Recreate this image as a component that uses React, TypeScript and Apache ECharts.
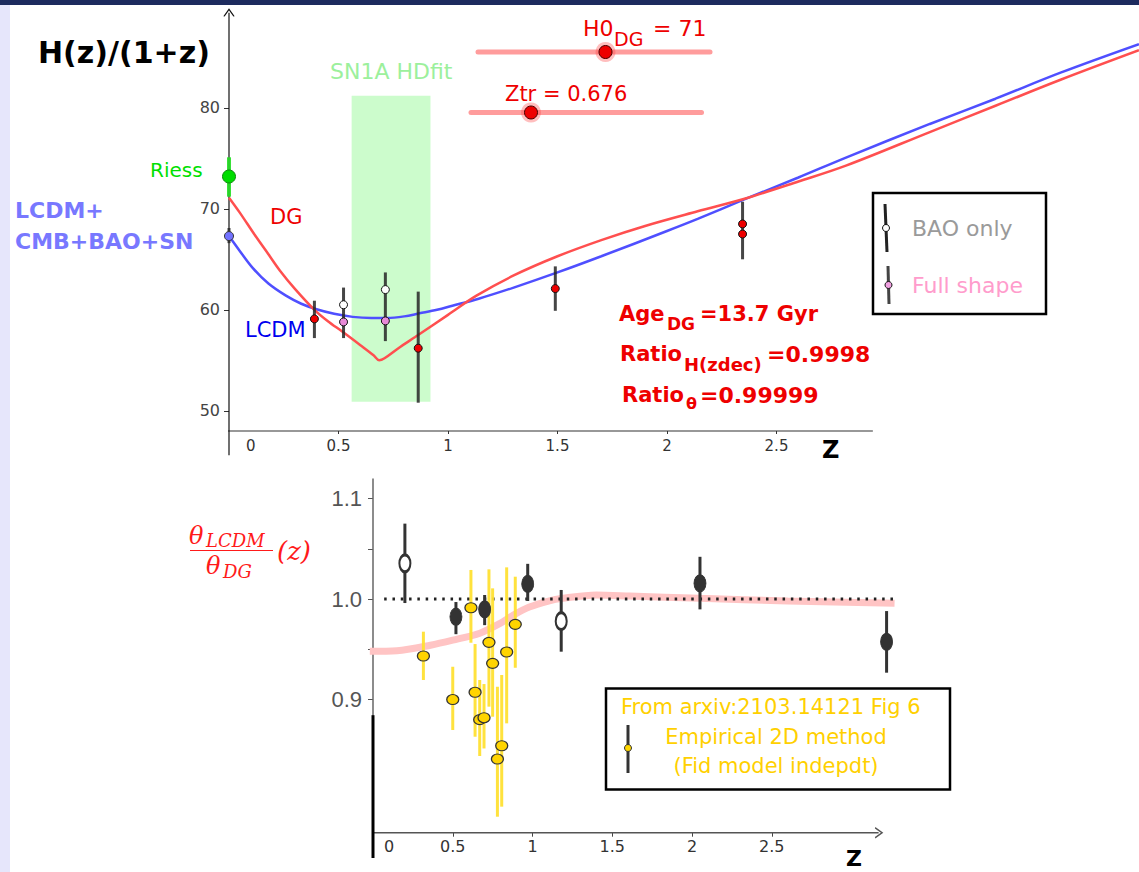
import React, { useEffect, useRef } from 'react';
import * as echarts from 'echarts';

// ---------- TOP PANEL: H(z)/(1+z) ----------
const lcdmCurve = [
  [0, 67.3], [0.05, 65.8], [0.11, 64.1], [0.18, 62.6], [0.26, 61.4], [0.33, 60.6], [0.4, 60.05],
  [0.48, 59.6], [0.565, 59.3], [0.65, 59.2], [0.72, 59.2], [0.8, 59.35], [0.87, 59.65], [0.95, 60.0],
  [1.02, 60.4], [1.14, 61.1], [1.3, 62.2], [1.5, 63.7], [1.7, 65.3], [2.0, 67.8], [2.14, 69.0],
  [2.35, 70.9], [2.6, 73.1], [2.82, 75.1], [3.2, 78.4], [3.5, 80.9], [3.8, 83.5], [4.155, 86.3],
];
const dgCurve = [
  [0, 71.1], [0.05, 69.6], [0.118, 67.4], [0.18, 65.5], [0.232, 63.9], [0.3, 62.1], [0.39, 60.0],
  [0.45, 58.9], [0.52, 57.8], [0.6, 56.5], [0.66, 55.5], [0.686, 55.0], [0.71, 55.2], [0.78, 56.3],
  [0.85, 57.3], [1.0, 59.5], [1.13, 61.4], [1.3, 63.4], [1.5, 65.3], [1.7, 66.9], [1.9, 68.3],
  [2.14, 69.75], [2.35, 70.97], [2.6, 72.7], [2.82, 74.3], [3.2, 77.6], [3.5, 80.2], [3.8, 82.8],
  [4.155, 85.7],
];
const riessPoint = [[0, 73.2]];
const riessBar = [[0, 71.2, 75.1]];
const lcdmPoint = [[0, 67.3]];
const lcdmBar = [[0, 66.6, 68.1]];
const fullShapeRed = [[0.39, 59.1], [0.864, 56.2], [1.49, 62.1], [2.345, 68.5], [2.345, 67.5]];
const baoOnly = [[0.523, 60.5], [0.714, 62.0]];
const fullShapePink = [[0.523, 58.8], [0.714, 58.9]];
const topBars = [
  [0.39, 57.2, 60.9], [0.523, 57.2, 62.2], [0.714, 56.9, 63.7],
  [0.864, 50.8, 61.8], [1.49, 59.9, 64.3], [2.345, 65.0, 70.7],
];
const snBand = [0.56, 0.92, 50.9, 81.2]; // z0, z1, Hlo, Hhi
const topXTicks = [0.5, 1, 1.5, 2, 2.5];
const topYTicks = [50, 60, 70, 80];
const topXAxisLine = [[-0.073, 48], [2.94, 48]];
const topYAxisLine = [[0, 45.6], [0, 89.4]];

// ---------- BOTTOM PANEL: theta ratio ----------
const pinkCurve = [
  [-0.02, 0.948], [0.15, 0.9486], [0.36, 0.954], [0.5, 0.959], [0.67, 0.966], [0.8, 0.976],
  [0.88, 0.984], [0.98, 0.992], [1.1, 0.998], [1.19, 1.0007], [1.4, 1.004], [1.61, 1.003],
  [2.05, 1.0007], [2.6, 0.998], [3.27, 0.9957],
];
const ratioOne = [[0.07, 1], [3.27, 1]];
const empFilled = [[0.52, 0.9824], [0.70, 0.9897], [0.97, 1.015], [2.05, 1.0156], [3.22, 0.9575]];
const empOpen = [[0.2, 1.0355], [1.18, 0.978]];
const empBars = [
  [0.2, 0.996, 1.075], [0.52, 0.965, 0.997], [0.70, 0.974, 1.004], [0.97, 0.998, 1.035],
  [1.18, 0.9476, 1.009], [2.05, 0.9897, 1.042], [3.22, 0.9267, 0.988],
];
const yellowPts = [
  [0.316, 0.9433], [0.50, 0.900], [0.614, 0.9913], [0.64, 0.9072], [0.669, 0.880], [0.696, 0.8819],
  [0.727, 0.9569], [0.75, 0.936], [0.78, 0.8408], [0.807, 0.854], [0.838, 0.9473], [0.892, 0.9748],
];
const yellowBars = [
  [0.316, 0.9194, 0.9675], [0.50, 0.8697, 0.9326], [0.614, 0.9565, 1.0289], [0.64, 0.863, 0.9552],
  [0.669, 0.8438, 0.9194], [0.696, 0.8513, 0.9154], [0.727, 0.8929, 1.0295], [0.75, 0.8829, 1.0106],
  [0.78, 0.7834, 0.9127], [0.807, 0.7934, 0.9244], [0.838, 0.8763, 1.0315], [0.892, 0.9316, 1.0222],
];
const botXTicks = [0.5, 1, 1.5, 2, 2.5];
const botYLabels = [0.9, 1.0, 1.1];
const botYTicks = [0.9, 0.95, 1.0, 1.05, 1.1];
const botXAxisLine = [[-0.11, 0.7675], [3.17, 0.7675]];
const botYAxisGray = [[0, 0.7423], [0, 1.12]];
const botYAxisBlack = [[0, 0.7423], [0, 0.8844]];

const SANS = '"DejaVu Sans", sans-serif';
const SERIF = '"DejaVu Serif", serif';
const ELLIPSE = 'path://M5,0 A5,5 0 1 1 5,10 A5,5 0 1 1 5,0 Z';
const CHEVRON_UP = 'path://M0,10 L5,0 L10,10';
const CHEVRON_RIGHT = 'path://M0,0 L10,5 L0,10';

function barSeries(data: number[][], idx: number, color: string, width: number, opacity = 1, z = 4) {
  return {
    type: 'custom',
    xAxisIndex: idx,
    yAxisIndex: idx,
    data,
    silent: true,
    clip: false,
    z,
    encode: { x: 0, y: [1, 2] },
    renderItem: (_p: any, api: any) => {
      const a = api.coord([api.value(0), api.value(1)]);
      const b = api.coord([api.value(0), api.value(2)]);
      return {
        type: 'line',
        shape: { x1: a[0], y1: a[1], x2: b[0], y2: b[1] },
        style: { stroke: color, lineWidth: width, opacity, lineCap: 'butt' },
      };
    },
  };
}

function lineSeries(data: number[][], idx: number, color: string, width: number, z = 2, extra: any = {}) {
  return {
    type: 'line',
    xAxisIndex: idx,
    yAxisIndex: idx,
    data,
    showSymbol: false,
    symbol: 'none',
    silent: true,
    clip: false,
    z,
    lineStyle: { color, width },
    ...extra,
  };
}

function scatter(data: number[][], idx: number, symbol: string, size: any, fill: string, border: string, bw: number, z = 5) {
  return {
    type: 'scatter',
    xAxisIndex: idx,
    yAxisIndex: idx,
    data,
    symbol,
    symbolSize: size,
    silent: true,
    clip: false,
    z,
    itemStyle: { color: fill, borderColor: border, borderWidth: bw, opacity: 1 },
  };
}

function T(text: string, x: number, y: number, size: number, fill: string, o: any = {}) {
  return {
    type: 'text',
    x,
    y,
    silent: true,
    z: 10,
    style: {
      text,
      fill,
      font: `${o.italic ? 'italic ' : ''}${o.bold ? 'bold ' : ''}${size}px ${o.family || SANS}`,
      textAlign: o.align || 'left',
      textVerticalAlign: 'middle',
    },
  };
}

export default function App() {
  const ref = useRef<HTMLDivElement>(null);

  useEffect(() => {
    if (!ref.current) return;
    const chart = echarts.init(ref.current, undefined, { renderer: 'svg' });

    const topPx = 219; // px per unit z (top)
    const topW = 1139 - 229;
    const option: any = {
      animation: false,
      backgroundColor: '#ffffff',
      grid: [
        { left: 229, top: 6.8, width: topW, height: 424.2, outerBoundsMode: 'none', containLabel: false },
        { left: 373, top: 478.4, width: 542.3, height: 354.3, outerBoundsMode: 'none', containLabel: false },
      ],
      xAxis: [
        {
          type: 'value', gridIndex: 0, min: 0, max: topW / topPx,
          axisLine: { show: false }, splitLine: { show: false },
          axisTick: { show: true, customValues: topXTicks, length: 3, lineStyle: { color: '#333' } },
          axisLabel: { customValues: topXTicks, fontSize: 15, fontFamily: 'DejaVu Sans', color: '#333', margin: 7, formatter: (v: number) => String(v) },
        },
        {
          type: 'value', gridIndex: 1, min: 0, max: 3.4,
          axisLine: { show: false }, splitLine: { show: false },
          axisTick: { show: true, customValues: botXTicks, length: 4, lineStyle: { color: '#444' } },
          axisLabel: { customValues: botXTicks, fontSize: 16, fontFamily: 'DejaVu Sans', color: '#333', margin: 6, formatter: (v: number) => String(v) },
        },
      ],
      yAxis: [
        {
          type: 'value', gridIndex: 0, min: 48, max: 90,
          axisLine: { show: false }, splitLine: { show: false },
          axisTick: { show: true, customValues: topYTicks, length: 5, lineStyle: { color: '#333' } },
          axisLabel: { customValues: topYTicks, fontSize: 16, fontFamily: 'DejaVu Sans', color: '#444', margin: 9 },
        },
        {
          type: 'value', gridIndex: 1, min: 0.7675, max: 1.12,
          axisLine: { show: false }, splitLine: { show: false },
          axisTick: { show: true, customValues: botYTicks, length: 5, lineStyle: { color: '#555' } },
          axisLabel: {
            customValues: botYLabels, fontSize: 22, fontFamily: '"Liberation Sans Narrow", "Liberation Sans"',
            color: '#555', margin: 11, formatter: (v: number) => v.toFixed(1),
          },
        },
      ],
      series: [
        // top axes lines + SN band
        lineSeries(topXAxisLine, 0, '#333', 1.2, 1, {
          markArea: {
            silent: true,
            itemStyle: { color: '#ccfccc' },
            data: [[{ coord: [snBand[0], snBand[3]] }, { coord: [snBand[1], snBand[2]] }]],
          },
        }),
        lineSeries(topYAxisLine, 0, '#111', 1.2, 2),
        scatter([topYAxisLine[1]], 0, CHEVRON_UP, [10, 7], 'none', '#111', 1.2, 2),
        // curves
        lineSeries(lcdmCurve, 0, '#4f4fff', 2.5, 3, { smooth: 0.35 }),
        lineSeries(dgCurve, 0, '#ff4f4f', 2.5, 3, { smooth: 0.35 }),
        // error bars
        barSeries(topBars, 0, '#262626', 3, 0.85),
        barSeries(lcdmBar, 0, '#262626', 3, 0.85),
        barSeries(riessBar, 0, '#22dd22', 4, 0.9),
        // points
        scatter(fullShapeRed, 0, 'circle', 8, '#ee0000', '#111', 1),
        scatter(baoOnly, 0, 'circle', 8, '#ffffff', '#111', 1),
        scatter(fullShapePink, 0, 'circle', 8, '#e88ad8', '#111', 1),
        scatter(lcdmPoint, 0, 'circle', 9, '#7272ff', '#333', 1),
        scatter(riessPoint, 0, 'circle', 13, '#00dd00', '#118811', 1),

        // bottom axes
        lineSeries(botXAxisLine, 1, '#555', 1.5, 1),
        scatter([botXAxisLine[1]], 1, CHEVRON_RIGHT, [7, 10], 'none', '#555', 1.3, 2),
        lineSeries(botYAxisGray, 1, '#666', 1.5, 1),
        lineSeries(botYAxisBlack, 1, '#000', 3, 2),
        // pink DG ratio curve and dotted 1.0 line
        lineSeries(pinkCurve, 1, '#ffc4c4', 7, 2, { smooth: 0.3 }),
        lineSeries(ratioOne, 1, '#222', 3, 3, { lineStyle: { color: '#222', width: 3, type: [2.5, 5.8] } }),
        // empirical points
        barSeries(yellowBars, 1, '#ffe033', 3, 0.95, 4),
        barSeries(empBars, 1, '#333', 3, 1, 4),
        scatter(yellowPts, 1, ELLIPSE, [12, 10], '#ffd400', '#333', 1.2, 6),
        scatter(empFilled, 1, ELLIPSE, [12, 17], '#333333', '#333', 1, 5),
        scatter(empOpen, 1, ELLIPSE, [11, 17], '#ffffff', '#333', 2.5, 5),
      ],
      graphic: [
        // frame bits
        { type: 'rect', shape: { x: 0, y: 0, width: 1139, height: 5 }, style: { fill: '#1d2b5e' }, silent: true, z: 20 },
        { type: 'rect', shape: { x: 0, y: 5, width: 10, height: 867 }, style: { fill: '#e6e6fb' }, silent: true, z: 20 },

        // top texts
        T('H(z)/(1+z)', 38, 52, 30, '#000', { bold: true }),
        T('SN1A HDfit', 330, 71, 22, '#9cf09c'),
        T('Riess', 150, 170, 20, '#00e000'),
        T('LCDM+', 15, 210, 22, '#7878ff', { bold: true }),
        T('CMB+BAO+SN', 15, 241, 22, '#7878ff', { bold: true }),
        T('DG', 270, 217, 21, '#ee0000'),
        T('LCDM', 245, 330, 21, '#0000ee'),
        T('0', 246, 445.5, 15, '#333'),
        T('Z', 822, 450, 24, '#000', { bold: true }),

        // sliders
        { type: 'line', shape: { x1: 478, y1: 52, x2: 710, y2: 52 }, style: { stroke: '#ff9c9c', lineWidth: 5, lineCap: 'round' }, silent: true },
        { type: 'circle', shape: { cx: 605.5, cy: 52, r: 10 }, style: { fill: 'rgba(255,70,70,0.35)' }, silent: true },
        { type: 'circle', shape: { cx: 605.5, cy: 52, r: 6.5 }, style: { fill: '#ee0000', stroke: '#440000', lineWidth: 1 }, silent: true },
        T('H0', 583, 28, 22, '#ee0000'),
        T('DG', 614, 39, 19, '#ee0000'),
        T('= 71', 653, 28, 22, '#ee0000'),
        { type: 'line', shape: { x1: 471, y1: 112.5, x2: 701.5, y2: 112.5 }, style: { stroke: '#ff9c9c', lineWidth: 5, lineCap: 'round' }, silent: true },
        { type: 'circle', shape: { cx: 531, cy: 112.5, r: 10 }, style: { fill: 'rgba(255,70,70,0.35)' }, silent: true },
        { type: 'circle', shape: { cx: 531, cy: 112.5, r: 6.5 }, style: { fill: '#ee0000', stroke: '#440000', lineWidth: 1 }, silent: true },
        T('Ztr = 0.676', 505, 94, 21, '#ee0000'),

        // stats
        T('Age', 619, 314, 21, '#ee0000', { bold: true }),
        T('DG', 667, 324, 17, '#ee0000', { bold: true }),
        T('=13.7 Gyr', 700, 314, 21, '#ee0000', { bold: true }),
        T('Ratio', 620, 354, 21, '#ee0000', { bold: true }),
        T('H(zdec)', 684, 364, 18, '#ee0000', { bold: true }),
        T('=0.9998', 767, 354, 22, '#ee0000', { bold: true }),
        T('Ratio', 622, 395, 21, '#ee0000', { bold: true }),
        T('θ', 686, 403, 16, '#ee0000', { bold: true }),
        T('=0.99999', 700, 395, 22, '#ee0000', { bold: true }),

        // top legend
        { type: 'rect', shape: { x: 873, y: 193, width: 173, height: 121 }, style: { fill: 'none', stroke: '#000', lineWidth: 2.5 }, silent: true },
        { type: 'line', shape: { x1: 885, y1: 204, x2: 887, y2: 252 }, style: { stroke: '#222', lineWidth: 3 }, silent: true },
        { type: 'circle', shape: { cx: 886, cy: 228, r: 3.5 }, style: { fill: '#fff', stroke: '#111', lineWidth: 1 }, silent: true },
        T('BAO only', 912, 228, 22, '#9a9a9a'),
        { type: 'line', shape: { x1: 888, y1: 266, x2: 889, y2: 304 }, style: { stroke: '#444', lineWidth: 3 }, silent: true },
        { type: 'circle', shape: { cx: 888.5, cy: 285, r: 3.5 }, style: { fill: '#f0a0e0', stroke: '#111', lineWidth: 1 }, silent: true },
        T('Full shape', 912, 285, 22, '#ff9ccc'),

        // bottom fraction label
        T('θ', 189, 536, 24, '#ff1a1a', { italic: true, family: SERIF }),
        T('LCDM', 206, 540, 18, '#ff1a1a', { italic: true, family: SERIF }),
        { type: 'line', shape: { x1: 190, y1: 550.5, x2: 273, y2: 550.5 }, style: { stroke: '#ff1a1a', lineWidth: 1.2 }, silent: true },
        T('θ', 206, 566, 24, '#ff1a1a', { italic: true, family: SERIF }),
        T('DG', 223, 571, 18, '#ff1a1a', { italic: true, family: SERIF }),
        T('(z)', 277, 551, 26, '#ff1a1a', { italic: true, family: SERIF }),
        T('0', 384, 846, 16, '#333'),
        T('Z', 846, 858, 22, '#000', { bold: true }),

        // bottom legend
        { type: 'rect', shape: { x: 606, y: 688.5, width: 344, height: 101 }, style: { fill: '#fff', stroke: '#000', lineWidth: 2.5 }, silent: true, z: 8 },
        T('From arxiv:2103.14121 Fig 6', 621, 707, 21, '#ffd000'),
        { type: 'line', shape: { x1: 628, y1: 725, x2: 628, y2: 773 }, style: { stroke: '#333', lineWidth: 3 }, silent: true, z: 9 },
        { type: 'circle', shape: { cx: 628, cy: 748, r: 3.5 }, style: { fill: '#ffd700', stroke: '#333', lineWidth: 1 }, silent: true, z: 9 },
        T('Empirical 2D method', 776, 737, 21, '#ffd000', { align: 'center' }),
        T('(Fid model indepdt)', 776, 766, 21, '#ffd000', { align: 'center' }),
      ],
    };

    chart.setOption(option);
    return () => chart.dispose();
  }, []);

  return (
    <div
      ref={ref}
      style={{ position: 'absolute', left: 0, top: 0, width: 1139, height: 872, background: '#fff' }}
    />
  );
}
